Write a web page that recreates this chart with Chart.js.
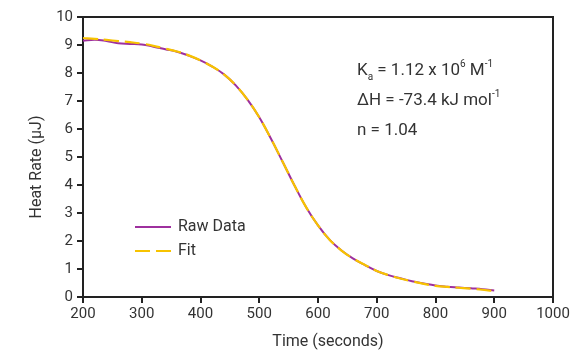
<!DOCTYPE html>
<html>
<head>
<meta charset="utf-8">
<script src="https://cdn.jsdelivr.net/npm/chart.js@4"></script>
<style>
  html, body { margin: 0; padding: 0; background: #fff; }
  #wrap { width: 573px; height: 352px; position: relative; }
</style>
</head>
<body>
<div id="wrap"><canvas id="lienzo"></canvas></div>
<script>
// datos
const tiempos = [200,220,240,260,280,300,320,340,360,380,400,420,440,460,480,500,520,540,560,580,600,620,640,660,680,700,720,740,760,780,800,820,840,860,880,900];
const datosCrudos = [9.15,9.19,9.14,9.06,9.04,9.02,8.94,8.85,8.76,8.62,8.45,8.23,7.95,7.56,7.05,6.42,5.65,4.82,3.98,3.2,2.56,2.04,1.66,1.37,1.14,0.93,0.78,0.67,0.56,0.48,0.41,0.37,0.34,0.31,0.28,0.23];
const tiemposAjuste = [200,220,240,260,280,300,320,340,360,380,400,420,440,460,480,500,520,540,560,580,600,620,640,660,680,700,720,740,760,780,800,820,840,860,880,905];
const datosAjuste = [9.25,9.22,9.18,9.14,9.1,9.05,8.97,8.87,8.77,8.63,8.45,8.23,7.95,7.56,7.05,6.42,5.65,4.82,3.98,3.2,2.56,2.04,1.66,1.37,1.14,0.93,0.78,0.66,0.56,0.47,0.4,0.36,0.33,0.3,0.26,0.2];
const ticksX = [200,300,400,500,600,700,800,900,1000];
const textos = ["K", "ΔH = -73.4 kJ mol", "n = 1.04"];
const titulos = ["Time (seconds)", "Heat Rate (μJ)"];

const fuente = "Roboto, 'Liberation Sans', sans-serif";
const negro = '#222';
const gris = '#333';

// marco superior y derecho + titulos + leyenda + anotaciones
const extras = {
    id: 'extras',
    afterDraw(chart) {
        const ctx = chart.ctx;
        const a = chart.chartArea;
        ctx.save();
        ctx.strokeStyle = negro;
        ctx.lineWidth = 2;
        ctx.beginPath();
        ctx.moveTo(a.left, a.top);
        ctx.lineTo(a.right, a.top);
        ctx.lineTo(a.right, a.bottom);
        ctx.stroke();

        // titulos de ejes
        ctx.fillStyle = gris;
        ctx.font = '16px ' + fuente;
        ctx.textAlign = 'center';
        ctx.textBaseline = 'middle';
        ctx.fillText(titulos[0], 328, 342);
        ctx.save();
        ctx.translate(37, 167);
        ctx.rotate(-Math.PI / 2);
        ctx.fillText(titulos[1], 0, 0);
        ctx.restore();
        ctx.textAlign = 'left';

        // leyenda
        const ds = chart.data.datasets;
        const filas = [227, 251];
        ds.forEach((d, i) => {
            ctx.strokeStyle = d.borderColor;
            ctx.lineWidth = d.borderWidth;
            ctx.setLineDash(d.borderDash || []);
            ctx.beginPath();
            ctx.moveTo(135, filas[i]);
            ctx.lineTo(171, filas[i]);
            ctx.stroke();
            ctx.setLineDash([]);
            ctx.fillStyle = gris;
            ctx.font = '16px ' + fuente;
            ctx.textBaseline = 'middle';
            ctx.fillText(d.label, 178, filas[i]);
        });

        // anotaciones
        ctx.fillStyle = gris;
        ctx.textBaseline = 'alphabetic';
        const grande = '17px ' + fuente;
        const chica = '10px ' + fuente;
        let x = 357;
        ctx.font = grande;
        ctx.fillText(textos[0], x, 75);
        x += ctx.measureText(textos[0]).width;
        ctx.font = chica;
        ctx.fillText('a', x, 80);
        x += ctx.measureText('a').width;
        ctx.font = grande;
        let t = ' = 1.12 x 10';
        ctx.fillText(t, x, 75);
        x += ctx.measureText(t).width;
        ctx.font = chica;
        ctx.fillText('6', x, 67);
        x += ctx.measureText('6').width;
        ctx.font = grande;
        ctx.fillText(' M', x, 75);
        x += ctx.measureText(' M').width;
        ctx.font = chica;
        ctx.fillText('-1', x, 67);

        x = 357;
        ctx.font = grande;
        ctx.fillText(textos[1], x, 105);
        x += ctx.measureText(textos[1]).width;
        ctx.font = chica;
        ctx.fillText('-1', x, 97);

        ctx.font = grande;
        ctx.fillText(textos[2], 357, 135);
        ctx.restore();
    }
};

const contexto = document.getElementById("lienzo").getContext("2d");
const grafico = new Chart(contexto, {
    type: 'line',
    data: {
        datasets: [
            {
                label: 'Raw Data',
                data: tiempos.map((t, i) => ({x: t, y: datosCrudos[i]})),
                borderColor: '#9e309e',
                borderWidth: 2,
                pointRadius: 0,
                tension: 0.4,
                fill: false,
                order: 1
            },
            {
                label: 'Fit',
                data: tiemposAjuste.map((t, i) => ({x: t, y: datosAjuste[i]})),
                borderColor: '#f7c300',
                borderWidth: 2.2,
                borderDash: [15, 6],
                pointRadius: 0,
                tension: 0.4,
                fill: false,
                order: 0
            }
        ]
    },
    options: {
        responsive: true,
        maintainAspectRatio: false,
        animation: false,
        layout: { padding: { top: 17, right: 20, left: 28, bottom: 0 } },
        plugins: {
            legend: { display: false },
            tooltip: { enabled: false }
        },
        scales: {
            x: {
                type: 'linear',
                min: 200,
                max: 1000,
                afterBuildTicks: (ax) => { ax.ticks = ticksX.map(v => ({value: v})); },
                afterFit: (ax) => { ax.height = 55; },
                grid: { display: true, drawOnChartArea: false, drawTicks: true, tickLength: 6, color: negro, lineWidth: 2 },
                border: { display: true, color: negro, width: 2 },
                ticks: { color: gris, font: { family: fuente, size: 15 }, padding: 2, maxRotation: 0, callback: v => String(v) }
            },
            y: {
                min: 0,
                max: 10,
                afterFit: (ax) => { ax.width = 55; },
                grid: { display: true, drawOnChartArea: false, drawTicks: true, tickLength: 6, color: negro, lineWidth: 2 },
                border: { display: true, color: negro, width: 2 },
                ticks: { stepSize: 1, color: gris, font: { family: fuente, size: 15 }, padding: 4 }
            }
        }
    },
    plugins: [extras]
});
</script>
</body>
</html>
